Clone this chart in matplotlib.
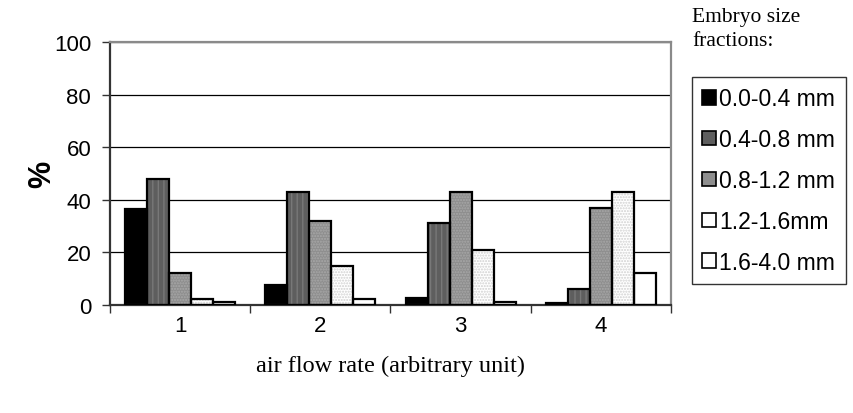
import matplotlib

matplotlib.use("Agg")
import matplotlib.pyplot as plt
import numpy as np
from matplotlib.patches import Patch

# data
flow_rates = ["1", "2", "3", "4"]
fractions = ["0.0-0.4 mm", "0.4-0.8 mm", "0.8-1.2 mm", "1.2-1.6mm", "1.6-4.0 mm"]
frac_00_04 = [36.5, 7.5, 2.5, 0.8]
frac_04_08 = [48, 43, 31, 6]
frac_08_12 = [12, 32, 43, 37]
frac_12_16 = [2.3, 15, 21, 43]
frac_16_40 = [1, 2.3, 1, 12.3]

series = [frac_00_04, frac_04_08, frac_08_12, frac_12_16, frac_16_40]
fills = ["#000000", "#5e5e5e", "#8e8e8e", "#ffffff", "#ffffff"]
hatches = [None, "|||", "......", "......", None]
hatch_cols = [None, "#787878", "#a8a8a8", "#d0d0d0", None]

SANS = "Liberation Sans"
SERIF = "Liberation Serif"

fig = plt.figure(figsize=(8.54, 4.14), dpi=100)
ax = fig.add_axes([110 / 854, 1 - 306 / 414, 561 / 854, 263 / 414])

x = np.arange(1, len(flow_rates) + 1)
w = 0.157
for k, vals in enumerate(series):
    pos = x + (k - 2) * w
    # fill + hatch layer, then black outline on top
    ax.bar(pos, vals, width=w, color=fills[k], hatch=hatches[k],
           edgecolor=hatch_cols[k] if hatch_cols[k] else fills[k], linewidth=0, zorder=2)
    ax.bar(pos, vals, width=w, fill=False, edgecolor="black", linewidth=1.6, zorder=3)

ax.set_xlim(0.5, 4.5)
ax.set_ylim(0, 100)
ax.set_yticks(range(0, 101, 20))
ax.yaxis.grid(True, color="black", linewidth=0.9, zorder=0)
ax.set_axisbelow(True)

ax.set_xticks(np.arange(0.5, 4.6, 1.0))
ax.set_xticklabels([])
ax.set_xticks(x, minor=True)
ax.set_xticklabels(flow_rates, minor=True)
ax.tick_params(axis="x", which="minor", length=0, pad=7, labelsize=16)
ax.tick_params(axis="x", which="major", length=6, width=1, color="#333333", direction="out")
ax.tick_params(axis="y", length=6, width=1, color="#333333", labelsize=16, pad=7.5)
for lab in ax.get_xticklabels(minor=True) + ax.get_yticklabels():
    lab.set_fontfamily(SANS)

for side in ["top", "right"]:
    ax.spines[side].set_color("#8a8a8a")
    ax.spines[side].set_linewidth(1.6)
ax.spines["left"].set_color("#333333")
ax.spines["left"].set_linewidth(1.6)
ax.spines["bottom"].set_color("#333333")
ax.spines["bottom"].set_linewidth(1.6)

ax.set_ylabel("%", fontfamily=SANS, fontsize=22, fontweight="bold", labelpad=-2)
ax.set_xlabel("air flow rate (arbitrary unit)", fontfamily=SERIF, fontsize=17.5, labelpad=14)

handles = [Patch(facecolor=fills[k], edgecolor="black", linewidth=1.2) for k in range(len(fractions))]
leg = fig.legend(handles, fractions, loc="upper left",
                 bbox_to_anchor=(692 / 854, 1 - 78 / 414), frameon=True, fancybox=False,
                 prop={"family": SANS, "size": 16.5}, handlelength=0.6, handleheight=0.6,
                 handletextpad=0.15, labelspacing=0.78, borderpad=0.45, borderaxespad=0)
leg.get_frame().set_edgecolor("black")
leg.get_frame().set_linewidth(1.0)

fig.text(692 / 854, 1 - 8 / 414, "Embryo size\nfractions:", fontfamily=SERIF, fontsize=15.5,
         va="top", ha="left", linespacing=1.35)

fig.savefig("out.png", dpi=100)
